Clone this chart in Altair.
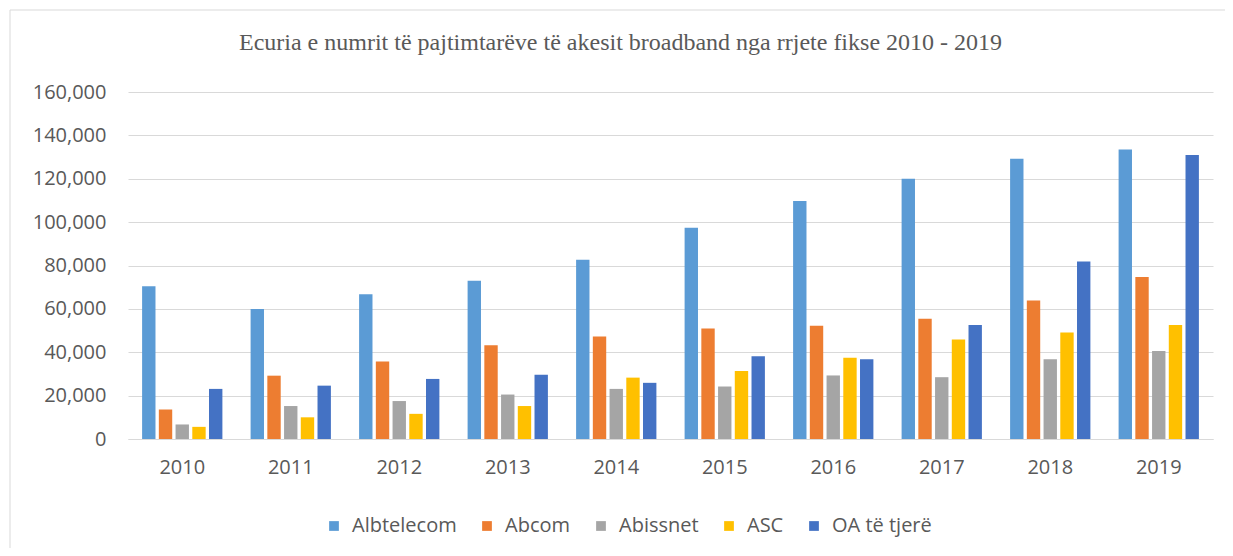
import altair as alt
import pandas as pd

years = ["2010", "2011", "2012", "2013", "2014", "2015", "2016", "2017", "2018", "2019"]
series = ["Albtelecom", "Abcom", "Abissnet", "ASC", "OA të tjerë"]
albtelecom = [70400, 59900, 66700, 73000, 82700, 97400, 109700, 120000, 129200, 133500]
abcom = [13600, 29200, 35700, 43200, 47300, 50900, 52200, 55500, 63900, 74700]
abissnet = [6700, 15200, 17500, 20500, 23100, 24200, 29300, 28500, 36800, 40600]
asc = [5600, 10000, 11600, 15200, 28300, 31300, 37500, 45900, 49100, 52600]
oa = [23100, 24600, 27700, 29600, 25900, 38200, 36800, 52600, 81900, 130900]
colors = ["#5B9BD5", "#ED7D31", "#A5A5A5", "#FFC000", "#4472C4"]
title_text = "Ecuria e numrit të pajtimtarëve të akesit broadband nga rrjete fikse 2010 - 2019"

rows = []
for name, vals in zip(series, [albtelecom, abcom, abissnet, asc, oa]):
    for y, v in zip(years, vals):
        rows.append({"year": y, "operator": name, "value": v})
df = pd.DataFrame(rows)

FONT = "Open Sans"
GRAY = "#595959"

bars = alt.Chart(df).mark_bar().encode(
    x=alt.X("year:N", sort=years, title=None,
            scale=alt.Scale(paddingInner=0.26, paddingOuter=0.13),
            axis=alt.Axis(labelAngle=0, ticks=False, domain=True, domainColor="#d9d9d9",
                          domainWidth=1.2,
                          labelFont=FONT, labelFontSize=20, labelColor=GRAY, labelPadding=18)),
    xOffset=alt.XOffset("operator:N", sort=series,
                        scale=alt.Scale(paddingInner=0.2, paddingOuter=0)),
    y=alt.Y("value:Q", title=None,
            scale=alt.Scale(domain=[0, 160000]),
            axis=alt.Axis(values=list(range(0, 160001, 20000)), format=",d",
                          ticks=False, domain=False, grid=True, gridColor="#d9d9d9",
                          gridWidth=1.2, labelFont=FONT, labelFontSize=20,
                          labelColor=GRAY, labelPadding=22)),
    color=alt.Color("operator:N", sort=series,
                    scale=alt.Scale(domain=series, range=colors),
                    legend=alt.Legend(title=None, orient="none", legendX=196, legendY=424,
                                      direction="horizontal", columns=5, symbolType="square",
                                      symbolSize=95, symbolStrokeWidth=0, labelFont=FONT,
                                      labelFontSize=20, labelColor=GRAY, labelOffset=8,
                                      columnPadding=20, padding=0)),
)

frame = alt.Chart(pd.DataFrame({"a": [0]})).mark_rect(
    fill=None, stroke="#d9d9d9", strokeWidth=1
).encode(x=alt.value(-118), x2=alt.value(1110), y=alt.value(-82), y2=alt.value(470))

chart = alt.layer(frame, bars).properties(
    width=1085, height=347,
    padding={"left": 120, "top": 84, "right": 12, "bottom": 109},
    autosize=alt.AutoSizeParams(type="none"),
    title=alt.TitleParams(text=title_text, font="Liberation Serif", fontSize=24,
                          fontWeight="normal", color=GRAY, anchor="middle",
                          baseline="alphabetic", dx=-50, offset=-64),
).configure(background="white").configure_view(stroke=None)

chart.save("out.html", embed_options={"renderer": "svg", "actions": False})
